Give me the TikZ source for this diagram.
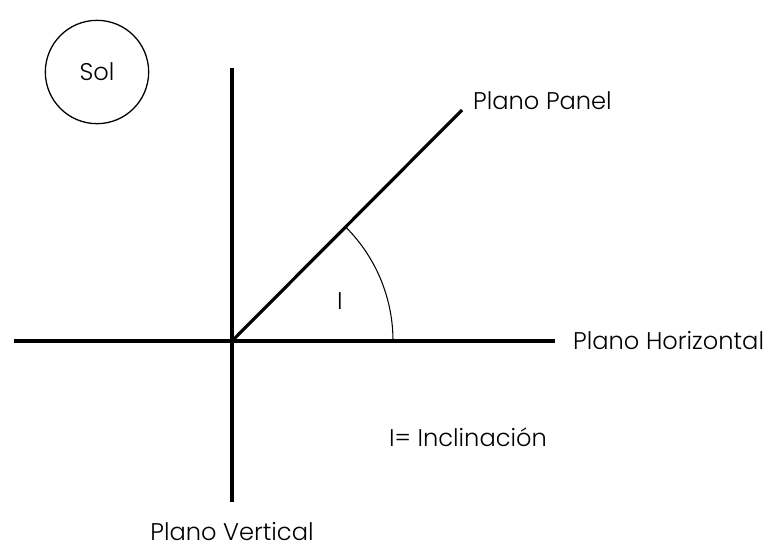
\documentclass[tikz,border=0pt]{standalone}
\usepackage{fontspec}
\setmainfont{Poppins Light}
\usetikzlibrary{positioning,calc}

\begin{document}
\begin{tikzpicture}[
  x=0.03cm, y=-0.03cm,
  plano/.style={line width=2.7pt, line cap=butt},
  etiqueta/.style={font=\fontsize{20.6}{24}\selectfont, inner sep=0pt},
  angulo/.style={line width=0.9pt}
]
  \useasboundingbox (0,0) rectangle (764,550);

  % Ejes
  \coordinate (O) at (232,341);
  \coordinate (hizq) at (14,341);
  \coordinate (hder) at (555,341);
  \coordinate (varr) at (232,68);
  \coordinate (vab) at (232,502);
  \coordinate (panel) at (462,110);

  \draw[plano] (hizq) -- (hder);
  \draw[plano] (varr) -- (vab);
  \draw[plano] (O) -- (panel);

  % Angulo de inclinacion
  \draw[angulo] ($(O)+(161,0)$) arc[start angle=0, end angle=-45, radius=161];
  \node[etiqueta] (I) at (340,301) {I};

  % Sol
  \node[draw, circle, line width=1.1pt, minimum size=3.1cm, etiqueta] (sol) at (97,72) {Sol};

  % Etiquetas
  \node[etiqueta, anchor=west] (lpanel) at (473,101) {Plano Panel};
  \node[etiqueta, anchor=west] (lhor) at (573,341) {Plano Horizontal};
  \node[etiqueta, anchor=north] (lvert) at (vab) [yshift=-0.6cm] {Plano Vertical};
  \node[etiqueta] (leyenda) at (468,437) {I= Inclinación};
\end{tikzpicture}
\end{document}
